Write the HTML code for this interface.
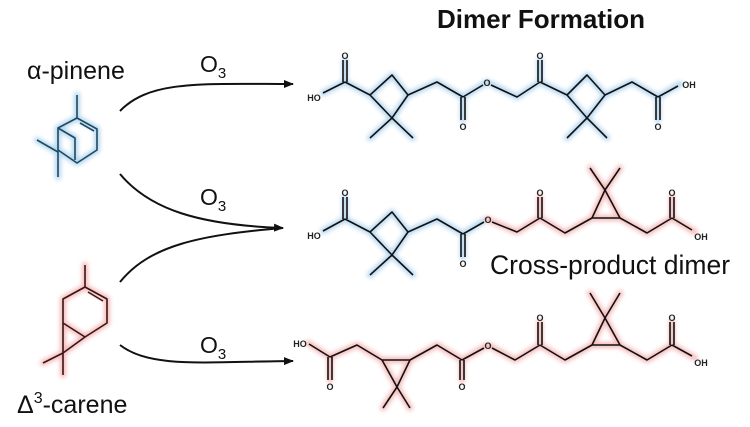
<!DOCTYPE html>
<html><head><meta charset="utf-8"><style>
html,body{margin:0;padding:0;background:#fff;}
svg{display:block;}
text{font-family:"Liberation Sans",sans-serif;}
.sm{font-size:9px;font-weight:bold;fill:#222;}
</style></head><body>
<svg width="750" height="427" viewBox="0 0 750 427" xmlns="http://www.w3.org/2000/svg">
<defs>
<filter id="g" x="-10%" y="-10%" width="120%" height="120%"><feGaussianBlur stdDeviation="2.2"/></filter>
<marker id="ah" markerWidth="10" markerHeight="8" refX="9" refY="4" orient="auto" markerUnits="userSpaceOnUse"><path d="M0,0 L10,4 L0,8 z" fill="#111"/></marker>
</defs>

<text x="437" y="28" font-size="26" font-weight="bold" fill="#111">Dimer Formation</text>
<text x="27" y="79" font-size="25" fill="#111">α-pinene</text>
<text x="17" y="413" font-size="25" fill="#111">Δ<tspan font-size="16" dy="-10">3</tspan><tspan dy="10">-carene</tspan></text>
<text x="490" y="274" font-size="26.5" fill="#111">Cross-product dimer</text>

<g font-size="23" fill="#111">
<text x="200" y="72">O<tspan font-size="15" dy="6">3</tspan></text>
<text x="200" y="205">O<tspan font-size="15" dy="6">3</tspan></text>
<text x="200" y="353">O<tspan font-size="15" dy="6">3</tspan></text>
</g>

<g fill="none" stroke="#111" stroke-width="2">
<path d="M120,111 C150,80 200,84 293,84" marker-end="url(#ah)"/>
<path d="M120,174 C150,210 200,225 283,228" marker-end="url(#ah)"/>
<path d="M120,282 C150,245 200,235 283,228"/>
<path d="M120,345 C150,368 200,362 293,361" marker-end="url(#ah)"/>
</g>

<g fill="none" stroke-width="6" stroke-linejoin="round" stroke-linecap="round" filter="url(#g)" opacity="0.75">
<g stroke="#9cc9ea">
 <path d="M77,95 L77,118 L97,129 L97,150 L77,163 L58,150 L58,128 L77,118 M58,128 L75,138 L75,160 M37,140 L58,152 L58,177"/>
 <path d="M323,93 L345,82 L345,60 M345,82 L370,95 L392,75 L408,95 L392,118 L370,95 M392,118 L370,138 M392,118 L413,138 M408,95 L437,82 L463,97 L463,120 M463,97 L487,82 L517,97 L540,82 L540,60 M540,82 L567,95 L587,75 L605,95 L587,118 L567,95 M587,118 L567,138 M587,118 L607,138 M605,95 L632,82 L658,97 L658,120 M658,97 L680,84"/>
 <path d="M323,231 L345,219 L345,197 M345,219 L370,232 L392,212 L408,232 L392,255 L370,232 M392,255 L370,275 M392,255 L413,275 M408,232 L437,219 L463,234 L463,257 M463,234 L487,219"/>
</g>
<g stroke="#f2a4a4">
 <path d="M85,265 L85,287 L107,299 L107,323 L85,337 L63,323 L63,299 L85,287 M63,323 L85,337 L63,353 Z M43,363 L63,353 L63,375"/>
 <path d="M487,219 L517,232 L540,218 L540,197 M540,218 L565,233 L592,218 L620,218 L605,190 L592,218 M605,190 L590,168 M605,190 L620,168 M620,218 L647,233 L672,218 L672,197 M672,218 L695,232"/>
 <path d="M308,343 L330,357 L330,380 M330,357 L357,345 L382,360 L410,360 L397,387 L382,360 M397,387 L383,408 M397,387 L410,408 M410,360 L437,345 L462,360 L462,380 M462,360 L488,345 L515,360 L540,345 L540,322 M540,345 L565,360 L592,345 L620,345 L605,318 L592,345 M605,318 L590,293 M605,318 L620,293 M620,345 L647,360 L672,345 L672,322 M672,345 L695,358"/>
</g>
</g>

<g fill="none" stroke="#111" stroke-width="1.6" stroke-linejoin="round">
 <path stroke="#1d4a60" d="M77,95 L77,118 L97,129 L97,150 L77,163 L58,150 L58,128 L77,118 M80,123 L94,131 M58,128 L75,138 L75,160 M37,140 L58,152 L58,177"/>
 <path stroke="#3a1515" d="M85,265 L85,287 L107,299 L107,323 L85,337 L63,323 L63,299 L85,287 M88,292 L103,301 M63,323 L63,353 L85,337 M43,363 L63,353 L63,375"/>
 <path d="M323,93 L345,82 M343,82 L343,60 M347,82 L347,60 M345,82 L370,95 L392,75 L408,95 L392,118 L370,95 M392,118 L370,138 M392,118 L413,138 M408,95 L437,82 L463,97 M461,97 L461,120 M465,97 L465,120 M463,97 L483,85 M491,85 L517,97 L540,82 M538,82 L538,60 M542,82 L542,60 M540,82 L567,95 L587,75 L605,95 L587,118 L567,95 M587,118 L567,138 M587,118 L607,138 M605,95 L632,82 L658,97 M656,97 L656,120 M660,97 L660,120 M658,97 L678,86"/>
 <path d="M323,231 L345,219 M343,219 L343,197 M347,219 L347,197 M345,219 L370,232 L392,212 L408,232 L392,255 L370,232 M392,255 L370,275 M392,255 L413,275 M408,232 L437,219 L463,234 M461,234 L461,257 M465,234 L465,257 M463,234 L484,222 M492,222 L517,232 L540,218 M538,218 L538,197 M542,218 L542,197 M540,218 L565,233 L592,218 L620,218 L605,190 L592,218 M605,190 L590,168 M605,190 L620,168 M620,218 L647,233 L672,218 M670,218 L670,197 M674,218 L674,197 M672,218 L692,230"/>
 <path d="M309,344 L330,357 M328,357 L328,380 M332,357 L332,380 M330,357 L357,345 L382,360 L410,360 L397,387 L382,360 M397,387 L383,408 M397,387 L410,408 M410,360 L437,345 L462,360 M460,360 L460,380 M464,360 L464,380 M462,360 L484,348 M492,348 L515,360 L540,345 M538,345 L538,322 M542,345 L542,322 M540,345 L565,360 L592,345 L620,345 L605,318 L592,345 M605,318 L590,293 M605,318 L620,293 M620,345 L647,360 L672,345 M670,345 L670,322 M674,345 L674,322 M672,345 L692,356"/>
</g>

<g class="sm" text-anchor="middle">
 <text x="314" y="101">HO</text><text x="345" y="59">O</text><text x="463" y="130">O</text><text x="487" y="86">O</text><text x="540" y="59">O</text><text x="658" y="130">O</text><text x="689" y="88">OH</text>
 <text x="314" y="239">HO</text><text x="345" y="196">O</text><text x="463" y="267">O</text><text x="488" y="223">O</text><text x="540" y="196">O</text><text x="672" y="196">O</text><text x="701" y="240">OH</text>
 <text x="300" y="347">HO</text><text x="330" y="390">O</text><text x="462" y="390">O</text><text x="488" y="349">O</text><text x="540" y="321">O</text><text x="672" y="321">O</text><text x="701" y="366">OH</text>
</g>
</svg>
</body></html>
